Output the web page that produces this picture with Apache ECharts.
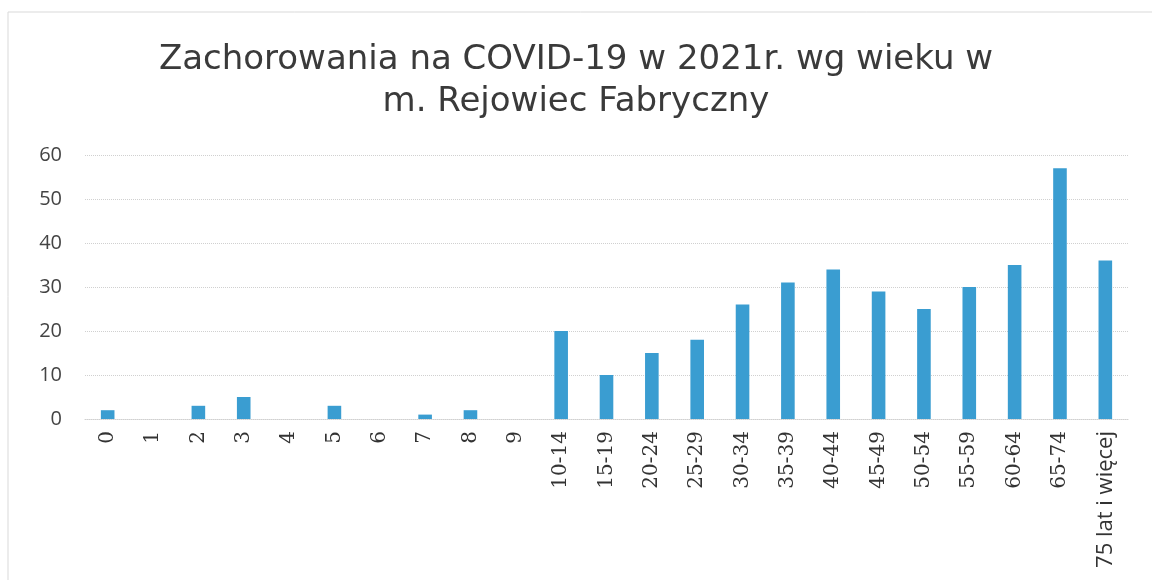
<!DOCTYPE html>
<html>
<head>
<meta charset="utf-8">
<script src="https://cdn.jsdelivr.net/npm/echarts@6/dist/echarts.min.js"></script>
<style>
  html, body { margin: 0; padding: 0; background: #fff; }
  #main { width: 1152px; height: 580px; }
</style>
</head>
<body>
<div id="main"></div>
<script>
// age groups and cases
var ageGroups = ['0','1','2','3','4','5','6','7','8','9','10-14','15-19','20-24','25-29','30-34','35-39','40-44','45-49','50-54','55-59','60-64','65-74','75 lat i więcej'];
var cases = [2,0,3,5,0,3,0,1,2,0,20,10,15,18,26,31,34,29,25,30,35,57,36];
var yTicks = {min: 0, max: 60, interval: 10};

var myChart = echarts.init(document.getElementById('main'));
var option = {
  backgroundColor: '#fff',
  title: {
    text: 'Zachorowania na COVID-19 w 2021r. wg wieku w\nm. Rejowiec Fabryczny',
    left: 'center',
    top: 34,
    textStyle: {
      fontFamily: 'DejaVu Sans',
      fontWeight: 'normal',
      fontSize: 34,
      lineHeight: 42,
      color: '#3a3a3a'
    }
  },
  graphic: [{
    type: 'rect',
    shape: {x: 8, y: 12, width: 1150, height: 580},
    style: {fill: 'none', stroke: '#d9d9d9', lineWidth: 1}
  }],
  grid: {left: 85, right: 24, top: 155, bottom: 161, containLabel: false},
  xAxis: {
    type: 'category',
    data: ageGroups,
    axisTick: {show: false},
    axisLine: {lineStyle: {color: '#d0d0d0', type: 'dotted'}},
    axisLabel: {
      rotate: 90,
      interval: 0,
      margin: 12,
      fontFamily: 'DejaVu Serif',
      fontSize: 20,
      color: '#333',
      formatter: function (v) {
        return v.indexOf('lat') > -1 ? '{s|' + v + '}' : v;
      },
      rich: {
        s: {fontFamily: 'Open Sans', fontSize: 22, color: '#333'}
      }
    }
  },
  yAxis: {
    type: 'value',
    min: yTicks.min,
    max: yTicks.max,
    interval: yTicks.interval,
    axisLine: {show: false},
    axisTick: {show: false},
    splitLine: {lineStyle: {color: '#d0d0d0', type: 'dotted'}},
    axisLabel: {
      margin: 23,
      fontFamily: 'Open Sans',
      fontSize: 20,
      color: '#444'
    }
  },
  series: [{
    type: 'bar',
    data: cases,
    barWidth: '30%',
    itemStyle: {color: '#3a9dd1'}
  }]
};
myChart.setOption(option);
</script>
</body>
</html>
